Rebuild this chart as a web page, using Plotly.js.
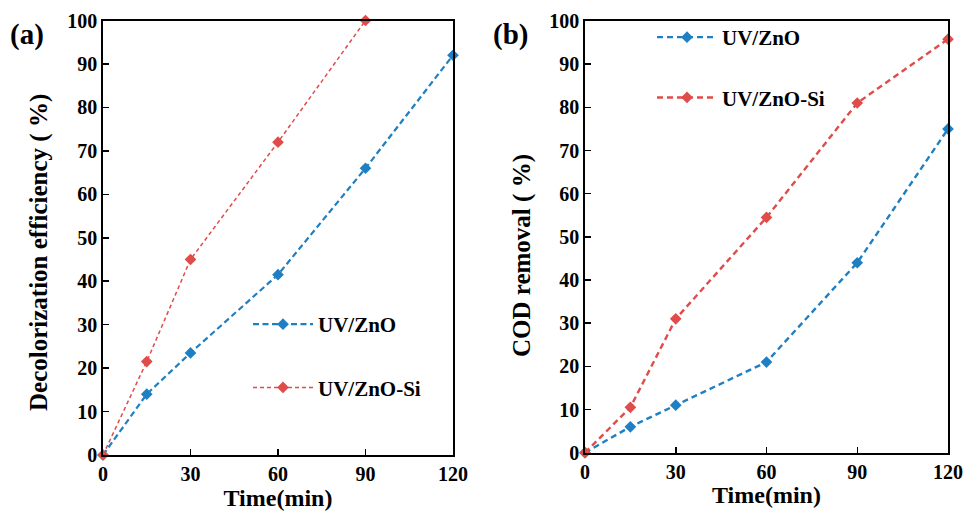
<!DOCTYPE html>
<html>
<head>
<meta charset="utf-8">
<script src="https://cdn.plot.ly/plotly-3.0.1.min.js"></script>
<style>html,body{margin:0;padding:0;background:#fff}#chart{width:965px;height:516px}</style>
</head>
<body>
<div id="chart"></div>
<script>
// Data
const time = [0, 15, 30, 60, 90, 120];
const timeSi = [0, 15, 30, 60, 90];
const decolorZnO = [0, 14, 23.5, 41.5, 66, 92];
const decolorZnOSi = [0, 21.5, 45, 72, 100];
const codZnO = [0, 6, 11, 21, 44, 75];
const codZnOSi = [0, 10.5, 31, 54.5, 81, 95.8];
const seriesNames = ['UV/ZnO', 'UV/ZnO-Si'];
const xTicks = [0, 30, 60, 90, 120];
const yTicks = [0, 10, 20, 30, 40, 50, 60, 70, 80, 90, 100];
const yTitles = ['Decolorization efficiency ( %)', 'COD removal ( %)'];
const panelLabels = ['(a)', '(b)'];

const blue = '#1f7fc3';
const red = '#df4c4a';
const FONT = '"Liberation Serif", "Times New Roman", serif';

function tr(x, y, name, color, xa, ya, lw, dash, leg, grp) {
  return {
    x: x, y: y, name: name, type: 'scatter', mode: 'lines+markers',
    xaxis: xa, yaxis: ya, legend: leg, legendgroup: grp,
    line: {color: color, width: lw, dash: dash},
    marker: {symbol: 'diamond', size: 9, color: color},
    cliponaxis: false
  };
}

const data = [
  tr(time, decolorZnO, seriesNames[0], blue, 'x', 'y', 2.2, '6px,3.5px', 'legend', 'a1'),
  tr(timeSi, decolorZnOSi, seriesNames[1], red, 'x', 'y', 1.5, '4px,3px', 'legend', 'a2'),
  tr(time, codZnO, seriesNames[0], blue, 'x2', 'y2', 2.4, '6px,4px', 'legend2', 'b1'),
  tr(time, codZnOSi, seriesNames[1], red, 'x2', 'y2', 2.4, '6px,4px', 'legend2', 'b2')
];

const W = 965, H = 516;
const f = (s) => ({family: FONT, size: s, color: '#000', weight: 'bold'});
function axX(d0, d1, anchor) {
  return {
    domain: [d0 / W, d1 / W], anchor: anchor, range: [0, 120],
    tickvals: xTicks, ticks: 'inside', ticklen: 6, tickwidth: 1.5, tickcolor: '#000',
    showline: true, linecolor: '#000', linewidth: 1.8, mirror: true,
    showgrid: false, zeroline: false,
    tickfont: f(20),
    title: {text: 'Time(min)', standoff: 2, font: f(24)}
  };
}
function axY(top, bottom, anchor) {
  return {
    domain: [1 - bottom / H, 1 - top / H], anchor: anchor, range: [0, 100],
    tickvals: yTicks, ticks: 'inside', ticklen: 6, tickwidth: 1.5, tickcolor: '#000',
    showline: true, linecolor: '#000', linewidth: 1.8, mirror: true,
    showgrid: false, zeroline: false,
    tickfont: f(20)
  };
}

const layout = {
  width: W, height: H,
  margin: {l: 0, r: 0, t: 0, b: 0},
  paper_bgcolor: '#fff', plot_bgcolor: '#fff',
  showlegend: true,
  xaxis: axX(103, 453, 'y'),
  yaxis: axY(20.5, 455, 'x'),
  xaxis2: axX(585, 948, 'y2'),
  yaxis2: axY(21, 452.7, 'x2'),
  legend: {x: 248 / W, y: 1 - 304 / H, xanchor: 'left', yanchor: 'top', bgcolor: 'rgba(0,0,0,0)',
    font: f(21), itemwidth: 60, traceorder: 'grouped', tracegroupgap: 33},
  legend2: {x: 652 / W, y: 1 - 17 / H, xanchor: 'left', yanchor: 'top', bgcolor: 'rgba(0,0,0,0)',
    font: f(21), itemwidth: 60, traceorder: 'grouped', tracegroupgap: 30},
  annotations: [
    {text: panelLabels[0], xref: 'paper', yref: 'paper', x: 8 / W, y: 1 - 34 / H, xanchor: 'left', yanchor: 'middle',
      showarrow: false, font: f(29)},
    {text: panelLabels[1], xref: 'paper', yref: 'paper', x: 491 / W, y: 1 - 34 / H, xanchor: 'left', yanchor: 'middle',
      showarrow: false, font: f(29)},
    {text: yTitles[0], xref: 'paper', yref: 'paper', x: 39 / W, y: 1 - 253 / H, xanchor: 'center', yanchor: 'middle',
      textangle: -90, showarrow: false, font: f(25)},
    {text: yTitles[1], xref: 'paper', yref: 'paper', x: 522 / W, y: 1 - 256 / H, xanchor: 'center', yanchor: 'middle',
      textangle: -90, showarrow: false, font: f(25)}
  ]
};

Plotly.newPlot('chart', data, layout, {displayModeBar: false, staticPlot: true});
</script>
</body>
</html>
